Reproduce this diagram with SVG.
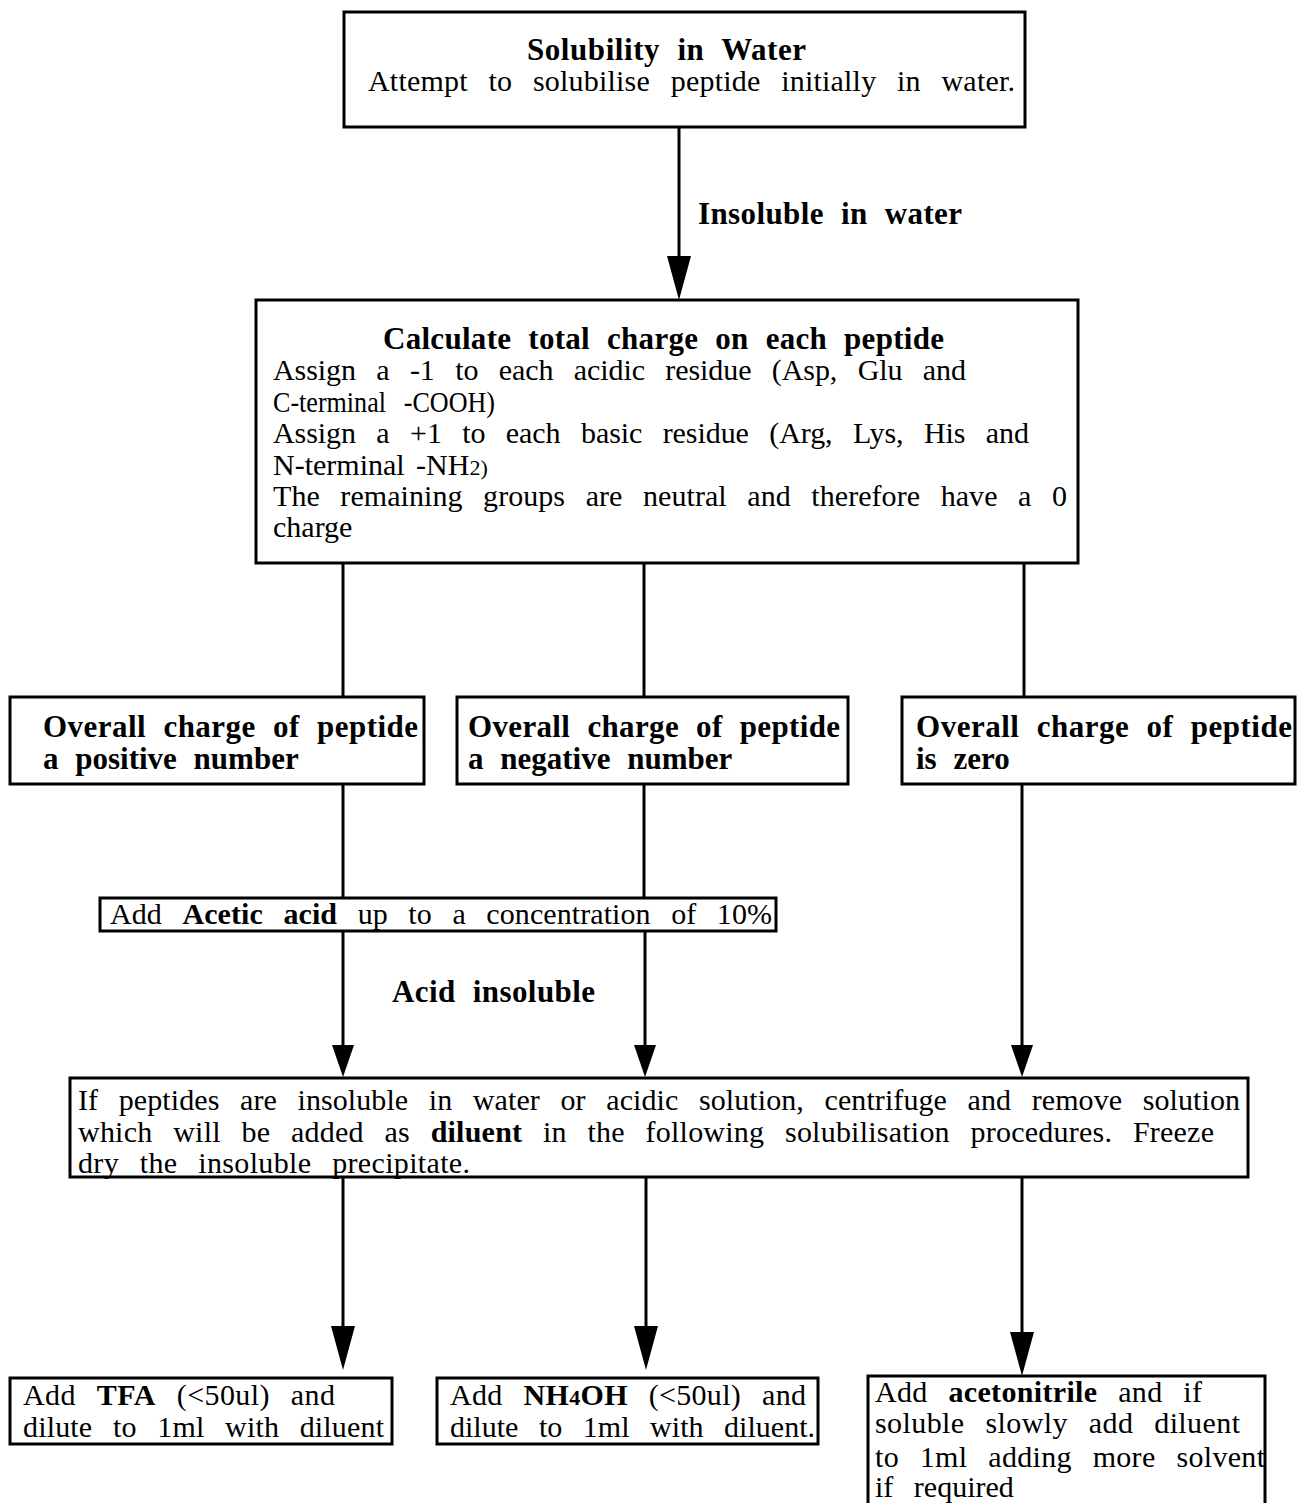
<svg xmlns="http://www.w3.org/2000/svg" width="1297" height="1503" viewBox="0 0 1297 1503">
  <style>
    .box { fill: #fff; stroke: #000; stroke-width: 3; }
    .wire { fill: none; stroke: #000; stroke-width: 3; }
    text { font-family: "Liberation Serif", "Times New Roman", serif; font-size: 30px; fill: #000; word-spacing: 13px; }
    .h { font-weight: bold; font-size: 31px; word-spacing: 9px; }
    .b { font-weight: bold; }
    .sm { font-size: 22px; }
    .tight { word-spacing: 4px; }
  </style>
  <defs>
    <marker id="head" markerUnits="userSpaceOnUse" viewBox="0 0 44 24" markerWidth="44" markerHeight="24" refX="24" refY="12" orient="auto">
      <path d="M0,0 L44,12 L0,24 Z" fill="#000"/>
    </marker>
    <marker id="head-s" markerUnits="userSpaceOnUse" viewBox="0 0 32 22" markerWidth="32" markerHeight="22" refX="14" refY="11" orient="auto">
      <path d="M0,0 L32,11 L0,22 Z" fill="#000"/>
    </marker>
  </defs>

  <!-- connectors -->
  <g id="connectors">
    <line class="wire" x1="679" y1="127" x2="679" y2="280" marker-end="url(#head)"/>
    <line class="wire" x1="343" y1="563" x2="343" y2="697"/>
    <line class="wire" x1="644" y1="563" x2="644" y2="697"/>
    <line class="wire" x1="1024" y1="563" x2="1024" y2="697"/>
    <line class="wire" x1="343" y1="784" x2="343" y2="898"/>
    <line class="wire" x1="644" y1="784" x2="644" y2="898"/>
    <line class="wire" x1="343" y1="931" x2="343" y2="1059" marker-end="url(#head-s)"/>
    <line class="wire" x1="645" y1="931" x2="645" y2="1059" marker-end="url(#head-s)"/>
    <line class="wire" x1="1022" y1="784" x2="1022" y2="1059" marker-end="url(#head-s)"/>
    <line class="wire" x1="343" y1="1177" x2="343" y2="1350" marker-end="url(#head)"/>
    <line class="wire" x1="646" y1="1177" x2="646" y2="1350" marker-end="url(#head)"/>
    <line class="wire" x1="1022" y1="1177" x2="1022" y2="1356" marker-end="url(#head)"/>
    <text class="h" x="698" y="224" textLength="264" lengthAdjust="spacing">Insoluble in water</text>
    <text class="h" x="392" y="1002" textLength="203" lengthAdjust="spacing">Acid insoluble</text>
  </g>

  <!-- start -->
  <g id="water">
    <rect class="box" x="344" y="12" width="681" height="115"/>
    <text class="h" x="527" y="60" textLength="279" lengthAdjust="spacing">Solubility in Water</text>
    <text x="368" y="91" textLength="647" lengthAdjust="spacing">Attempt to solubilise peptide initially in water.</text>
  </g>

  <!-- charge calculation -->
  <g id="charge">
    <rect class="box" x="256" y="300" width="822" height="263"/>
    <text class="h" x="383" y="349" textLength="561" lengthAdjust="spacing">Calculate total charge on each peptide</text>
    <text x="273" y="380" textLength="693" lengthAdjust="spacing">Assign a -1 to each acidic residue (Asp, Glu and</text>
    <text x="273" y="412" textLength="222" lengthAdjust="spacingAndGlyphs">C-terminal -COOH)</text>
    <text x="273" y="443" textLength="756" lengthAdjust="spacing">Assign a +1 to each basic residue (Arg, Lys, His and</text>
    <text class="tight" x="273" y="475">N-terminal -NH<tspan class="sm">2)</tspan></text>
    <text x="273" y="506" textLength="794" lengthAdjust="spacing">The remaining groups are neutral and therefore have a 0</text>
    <text x="273" y="537">charge</text>
  </g>

  <!-- charge outcomes -->
  <g id="positive">
    <rect class="box" x="10" y="697" width="414" height="87"/>
    <text class="h" x="43" y="737" textLength="375" lengthAdjust="spacing">Overall charge of peptide</text>
    <text class="h" x="43" y="769">a positive number</text>
  </g>
  <g id="negative">
    <rect class="box" x="457" y="697" width="391" height="87"/>
    <text class="h" x="468" y="737" textLength="372" lengthAdjust="spacing">Overall charge of peptide</text>
    <text class="h" x="468" y="769">a negative number</text>
  </g>
  <g id="zero">
    <rect class="box" x="902" y="697" width="393" height="87"/>
    <text class="h" x="916" y="737" textLength="376" lengthAdjust="spacing">Overall charge of peptide</text>
    <text class="h" x="916" y="769">is zero</text>
  </g>

  <!-- acetic acid step -->
  <g id="acetic">
    <rect class="box" x="100" y="898" width="676" height="33"/>
    <text x="110" y="924" textLength="662" lengthAdjust="spacing">Add <tspan class="b">Acetic acid</tspan> up to a concentration of 10%</text>
  </g>

  <!-- diluent preparation -->
  <g id="diluent">
    <rect class="box" x="70" y="1078" width="1178" height="99"/>
    <text x="78" y="1110" textLength="1162" lengthAdjust="spacing">If peptides are insoluble in water or acidic solution, centrifuge and remove solution</text>
    <text x="78" y="1142" textLength="1136" lengthAdjust="spacing">which will be added as <tspan class="b">diluent</tspan> in the following solubilisation procedures. Freeze</text>
    <text x="78" y="1173" textLength="392" lengthAdjust="spacing">dry the insoluble precipitate.</text>
  </g>

  <!-- solvents -->
  <g id="tfa">
    <rect class="box" x="10" y="1378" width="382" height="66"/>
    <text x="23" y="1405" textLength="312" lengthAdjust="spacing">Add <tspan class="b">TFA</tspan> (&lt;50ul) and</text>
    <text x="23" y="1437" textLength="361" lengthAdjust="spacing">dilute to 1ml with diluent</text>
  </g>
  <g id="ammonia">
    <rect class="box" x="437" y="1378" width="381" height="66"/>
    <text x="450" y="1405" textLength="356" lengthAdjust="spacing">Add <tspan class="b">NH<tspan class="sm">4</tspan>OH</tspan> (&lt;50ul) and</text>
    <text x="450" y="1437" textLength="365" lengthAdjust="spacing">dilute to 1ml with diluent.</text>
  </g>
  <g id="acetonitrile">
    <rect class="box" x="868" y="1376" width="397" height="140"/>
    <text x="875" y="1402" textLength="327" lengthAdjust="spacing">Add <tspan class="b">acetonitrile</tspan> and if</text>
    <text x="875" y="1433" textLength="365" lengthAdjust="spacing">soluble slowly add diluent</text>
    <text x="875" y="1467" textLength="390" lengthAdjust="spacing">to 1ml adding more solvent</text>
    <text x="875" y="1497">if required</text>
  </g>
</svg>
